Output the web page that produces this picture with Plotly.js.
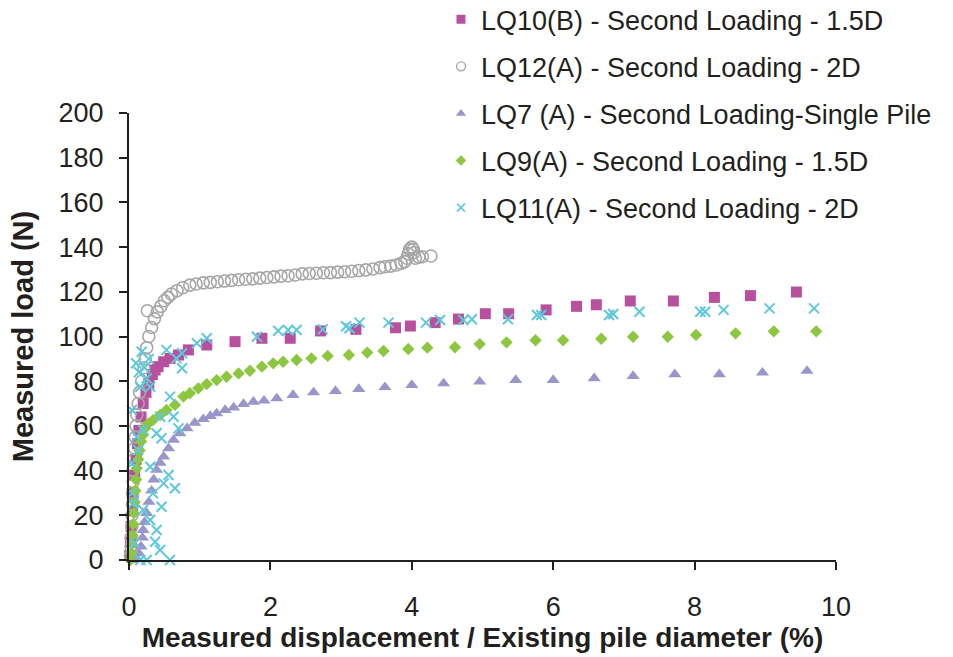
<!DOCTYPE html>
<html>
<head>
<meta charset="utf-8">
<script src="https://cdn.plot.ly/plotly-3.0.1.min.js"></script>
<style>html,body{margin:0;padding:0;background:#fff;}#chart{width:953px;height:657px;}</style>
</head>
<body>
<div id="chart"></div>
<script>
// LQ10(B) - Second Loading - 1.5D (squares)
const lq10X = [0.01,0.02,0.03,0.05,0.06,0.08,0.10,0.12,0.14,0.17,0.20,0.24,0.28,0.33,0.37,
  0.41,0.49,0.58,0.70,0.84,1.10,1.50,1.88,2.28,2.71,3.21,3.77,3.98,4.33,4.66,5.04,5.37,5.90,6.33,6.61,7.09,7.70,8.28,8.79,9.44];
const lq10Y = [2,8,15,22,30,38,45,52,58,64,70,75,79,83,85,
  86.5,88.7,90.2,91.7,94.0,96.2,97.7,99.2,99.2,102.5,103.2,103.9,104.7,106.2,107.8,110.2,110.2,111.9,113.5,114.2,115.9,115.9,117.5,118.3,119.9];

// LQ12(A) - Second Loading - 2D (open circles)
const lq12X = [0.02,0.03,0.03,0.04,0.04,0.05,0.05,0.06,0.06,0.07,0.08,0.09,0.10,0.11,0.13,0.15,0.18,0.21,0.23,0.25,0.26,0.28,0.32,0.36,0.40,0.45,0.50,0.55,0.60,0.68,0.76,0.86,0.95,1.05,1.15,1.25,1.35,1.45,1.55,1.65,1.75,1.85,1.95,2.05,2.15,2.25,2.35,2.45,2.55,2.65,2.75,2.85,2.95,3.05,3.15,3.25,3.35,3.45,3.55,3.62,3.70,3.78,3.85,3.90,3.93,3.95,3.97,4.00,4.02,4.03,4.05,4.10,4.15,4.27];
const lq12Y = [2,6,10,15,20,25,30,35,40,45,50,55,60,65,70,75,80,86,90,95,111.5,100,104,108,111,113.5,116,117.5,119,120.5,121.8,123,123.5,124,124.2,124.5,124.8,125.1,125.4,125.6,125.8,126.1,126.4,126.7,127,127.2,127.5,128,128.2,128.3,128.5,128.6,128.8,129,129.2,129.5,129.8,130.2,130.8,131.2,131.5,132,132.7,133.5,135,137,139,140,139,137.5,135,135.5,135.7,136];

// LQ7 (A) - Second Loading-Single Pile (triangles)
const lq7X = [0.05,0.10,0.14,0.17,0.19,0.20,0.22,0.25,0.28,0.32,0.35,0.39,0.44,0.49,0.56,0.63,0.72,0.82,0.93,1.05,1.15,1.24,1.36,1.48,1.62,1.76,1.91,2.09,2.32,2.61,2.92,3.25,3.62,4.00,4.45,4.96,5.47,6.00,6.58,7.13,7.72,8.35,8.96,9.59];
const lq7Y = [0,1,3,6,10,13.4,17,21,26,31,36,40.3,43.5,46.2,50.0,53.7,56.7,58.9,61.4,63.0,64.4,65.6,67.1,68.2,69.8,70.8,71.3,72.3,73.8,75.0,75.6,76.5,77.3,78.3,79.0,79.8,80.5,80.5,81.3,82.3,83.1,83.1,83.8,84.6];

// LQ9(A) - Second Loading - 1.5D (diamonds)
const lq9X = [0.02,0.03,0.04,0.05,0.06,0.07,0.08,0.09,0.10,0.11,0.13,0.15,0.17,0.20,0.23,0.27,0.34,0.44,0.53,0.65,0.77,0.86,0.98,1.10,1.24,1.38,1.55,1.71,1.88,2.04,2.18,2.37,2.58,2.81,3.11,3.37,3.60,3.95,4.22,4.61,4.96,5.34,5.75,6.14,6.68,7.13,7.62,8.02,8.58,9.12,9.72];
const lq9Y = [0,3,7,11,16,21,26,31,36,41,45,49,53,56,59,61,62.6,64.9,67.1,69.4,73.1,74.6,76.8,78.7,80.5,82.0,83.5,84.7,86.5,88.0,88.7,89.5,90.2,91.3,91.7,92.8,93.5,94.4,95.0,95.2,96.6,97.4,98.3,98.3,99.0,99.9,99.9,100.7,101.4,102.3,102.3];

// LQ11(A) - Second Loading - 2D (crosses)
const lq11X = [0.16,0.25,0.58,0.44,0.08,0.37,0.39,0.30,0.46,0.20,0.06,0.04,0.34,0.65,0.49,0.56,0.30,0.04,0.13,0.11,0.46,0.39,0.20,0.70,0.44,0.63,0.58,0.04,0.30,0.16,0.25,0.10,0.14,0.22,0.28,0.18,0.53,0.75,0.67,0.75,0.96,1.10,1.81,2.11,2.25,2.37,
  2.74,3.07,3.12,3.26,3.67,4.20,4.40,4.73,4.85,5.36,5.77,5.83,6.79,6.85,7.22,8.08,8.15,8.41,9.06,9.69];
const lq11Y = [0,0,0,4.5,7.5,8.2,13.4,17.9,23.8,22.4,25.4,29.8,29.8,32.1,34.3,38.0,41.7,43.3,49.2,55.2,54.5,56.7,58.2,58.9,64.1,64.1,73.1,67.1,77.5,77.5,81.3,88,84,86,90,93.2,94.0,85.8,90.2,92.5,97.0,99.2,99.9,102.6,102.9,102.9,
  103.2,104.6,103.7,106.2,106.2,106.2,107.4,107.4,107.7,107.7,109.6,109.6,109.6,110.1,111.1,111.1,111.1,111.9,112.6,112.6];

const names = [
  'LQ10(B) - Second Loading - 1.5D',
  'LQ12(A) - Second Loading - 2D',
  'LQ7 (A) - Second Loading-Single Pile',
  'LQ9(A) - Second Loading - 1.5D',
  'LQ11(A) - Second Loading - 2D'
];

const colors = ['#b8509e', '#a7a7a9', '#9a96cb', '#8dc63f', '#5ec8dd'];

const markers = [
  {symbol: 'square', size: 11, color: colors[0]},
  {symbol: 'circle-open', size: 12, color: colors[1], line: {width: 1.6, color: colors[1]}},
  {symbol: 'triangle-up', size: 11.5, color: colors[2]},
  {symbol: 'diamond', size: 9.5, color: colors[3]},
  {symbol: 'x-thin', size: 10, color: colors[4], line: {width: 2, color: colors[4]}}
];
const legendMarkers = [
  {symbol: 'square', size: 9, color: colors[0]},
  {symbol: 'circle-open', size: 9, color: colors[1], line: {width: 1.4, color: colors[1]}},
  {symbol: 'triangle-up', size: 9, color: colors[2]},
  {symbol: 'diamond', size: 8, color: colors[3]},
  {symbol: 'x-thin', size: 8, color: colors[4], line: {width: 1.6, color: colors[4]}}
];

const xs = [lq10X, lq12X, lq7X, lq9X, lq11X];
const ys = [lq10Y, lq12Y, lq7Y, lq9Y, lq11Y];
const groups = ['a', 'b', 'c', 'd', 'e'];

const traces = [];
for (let i = 0; i < 5; i++) {
  traces.push({x: xs[i], y: ys[i], name: names[i], mode: 'markers', type: 'scatter',
    showlegend: false, marker: markers[i], cliponaxis: false});
}
// legend entries (no data of their own)
for (let i = 0; i < 5; i++) {
  traces.push({x: [null], y: [null], name: names[i], legendgroup: groups[i], mode: 'markers',
    type: 'scatter', showlegend: true, marker: legendMarkers[i]});
}

const ff = '"Liberation Sans", Arial, sans-serif';
const ink = '#231f20';

const layout = {
  width: 953, height: 657,
  margin: {l: 129, r: 117, t: 113, b: 97, autoexpand: false},
  paper_bgcolor: '#ffffff', plot_bgcolor: '#ffffff',
  font: {family: ff, color: ink},
  showlegend: true,
  legend: {
    x: 0.4413, y: 1.2635, xanchor: 'left', yanchor: 'top',
    font: {family: ff, size: 27, color: ink},
    traceorder: 'grouped', tracegroupgap: 9,
    itemsizing: 'trace', bgcolor: 'rgba(0,0,0,0)'
  },
  xaxis: {
    range: [0, 10], tickvals: [0, 2, 4, 6, 8, 10],
    showgrid: false, zeroline: false, showline: true, linecolor: ink, linewidth: 2,
    ticks: 'outside', ticklen: 8, tickwidth: 2, tickcolor: ink,
    ticklabelstandoff: 14,
    tickfont: {family: ff, size: 27, color: ink},
    title: {text: 'Measured displacement / Existing pile diameter (%)', standoff: 6,
            font: {family: ff, size: 28, color: ink, weight: 'bold'}},
    fixedrange: true
  },
  yaxis: {
    range: [0, 200], tickvals: [0,20,40,60,80,100,120,140,160,180,200],
    showgrid: false, zeroline: false, showline: true, linecolor: ink, linewidth: 2,
    ticks: 'outside', ticklen: 8, tickwidth: 2, tickcolor: ink,
    ticklabelstandoff: 10,
    tickfont: {family: ff, size: 27, color: ink},
    title: {text: 'Measured load (N)', standoff: 16,
            font: {family: ff, size: 29, color: ink, weight: 'bold'}},
    fixedrange: true
  }
};

Plotly.newPlot('chart', traces, layout, {displayModeBar: false, staticPlot: true});
</script>
</body>
</html>
